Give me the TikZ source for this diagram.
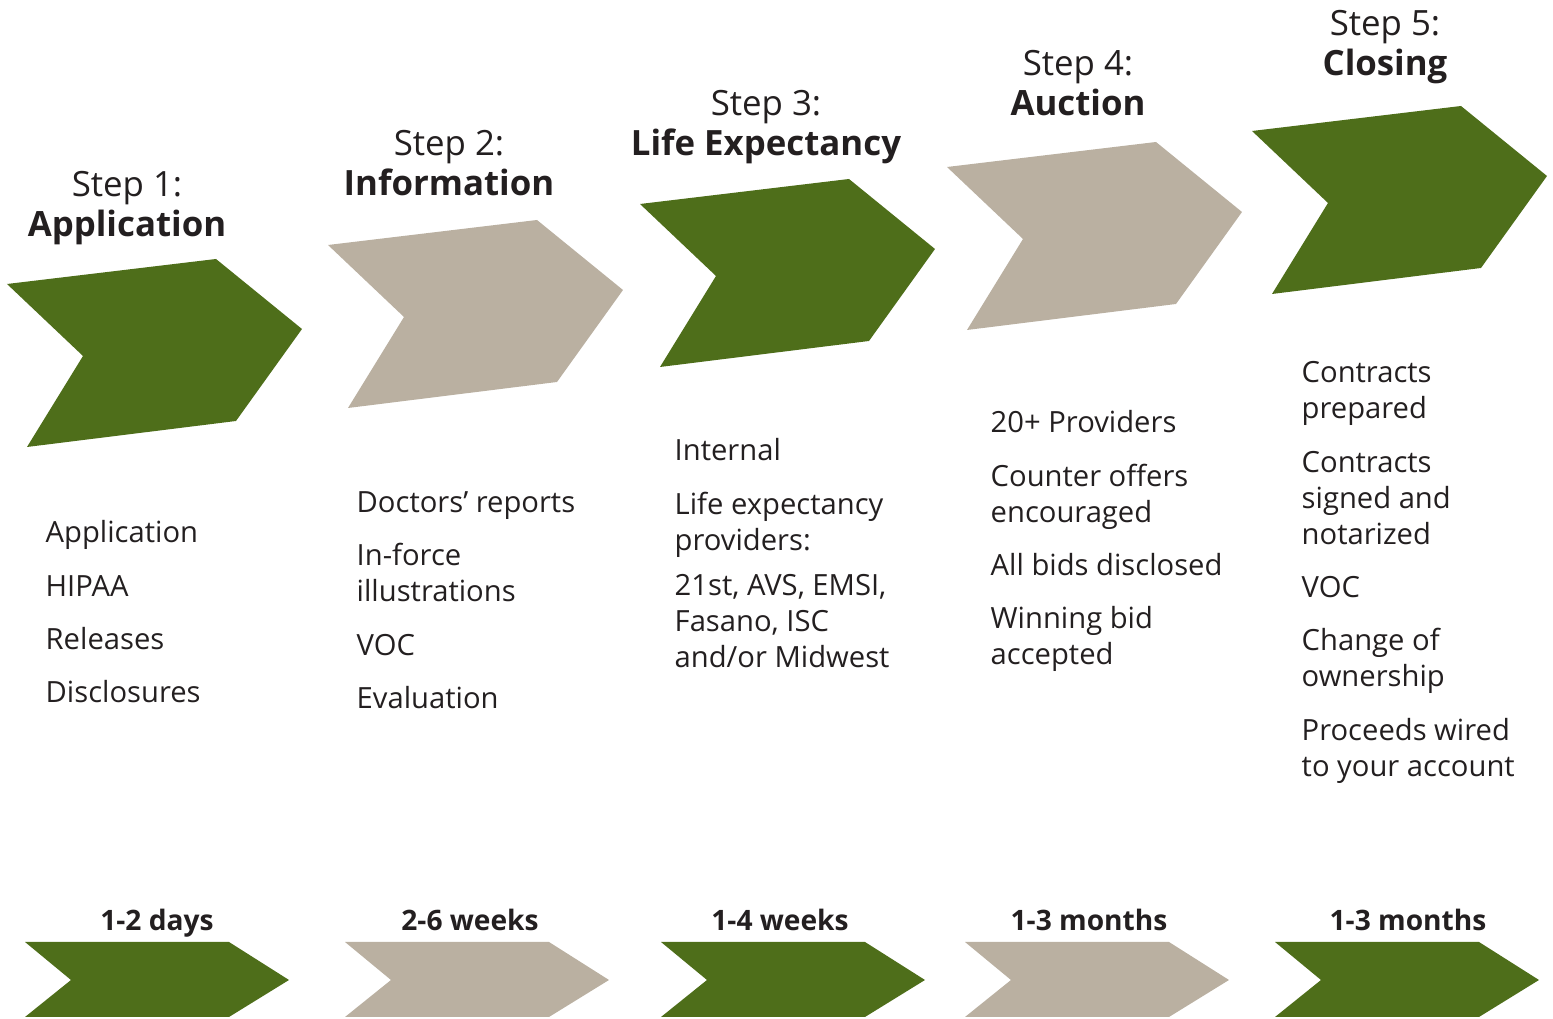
\documentclass[tikz,border=0pt]{standalone}
\usepackage{fontspec}
\setmainfont{Open Sans}
\usepackage{tikz}
\usetikzlibrary{positioning}
\definecolor{leafgreen}{RGB}{78,110,26}
\definecolor{sandgray}{RGB}{186,176,161}
\definecolor{inkgray}{HTML}{231F20}
\tikzset{
    chevg/.style = {fill=leafgreen},
    chevb/.style = {fill=sandgray},
    headnode/.style = {align=center, inner sep=0pt, anchor=north, text=inkgray,
                       font=\fontsize{9.9}{11.4}\selectfont},
    itemnode/.style = {align=left, inner sep=0pt, anchor=north west, text=inkgray,
                       font=\fontsize{8.3}{10.25}\selectfont},
    timenode/.style = {inner sep=0pt, anchor=base, text=inkgray,
                       font=\fontsize{8}{9.6}\selectfont\bfseries}
}
% big chevron: top left corner, style
\newcommand{\bigchev}[3]{\fill[#3] (#1,#2) -- ++(209,-25) -- ++(86,70) -- ++(-66,92) -- ++(-209,26) -- ++(56,-91) -- cycle;}
% small chevron: left x, style
\newcommand{\smallchev}[2]{\fill[#2] (#1,942) -- ++(204,0) -- ++(60,38) -- ++(-60,37) -- ++(-204,0) -- ++(46,-37) -- cycle;}

\begin{document}
\begin{tikzpicture}[x=0.01cm, y=-0.01cm]
  \useasboundingbox (0,0) rectangle (1553,1019);

  % steps
  \bigchev{7}{284}{chevg}
  \bigchev{328}{245}{chevb}
  \bigchev{640}{204}{chevg}
  \bigchev{947}{167}{chevb}
  \bigchev{1252}{131}{chevg}

  \node[headnode] (h1) at (127,171) {Step 1:\\\textbf{Application}};
  \node[headnode] (h2) at (449,130) {Step 2:\\\textbf{Information}};
  \node[headnode] (h3) at (766,90) {Step 3:\\\textbf{Life Expectancy}};
  \node[headnode] (h4) at (1078,50) {Step 4:\\\textbf{Auction}};
  \node[headnode] (h5) at (1385,10) {Step 5:\\\textbf{Closing}};

  % tasks
  \node[itemnode] (t1) at (45,520) {Application\\[4.9pt]HIPAA\\[4.9pt]Releases\\[4.9pt]Disclosures};
  \node[itemnode] (t2) at (356,491) {Doctors’ reports\\[4.9pt]In-force\\illustrations\\[4.9pt]VOC\\[4.9pt]Evaluation};
  \node[itemnode] (t3) at (674,438) {Internal\\[4.9pt]Life expectancy\\providers:\\[2.6pt]21st, AVS, EMSI,\\Fasano, ISC\\and/or Midwest};
  \node[itemnode] (t4) at (990,410) {20+ Providers\\[4.9pt]Counter offers\\encouraged\\[4.9pt]All bids disclosed\\[4.9pt]Winning bid\\accepted};
  \node[itemnode] (t5) at (1301,361) {Contracts\\prepared\\[4.9pt]Contracts\\signed and\\notarized\\[4.9pt]VOC\\[4.9pt]Change of\\ownership\\[4.9pt]Proceeds wired\\to your account};

  % timeline
  \smallchev{25}{chevg}
  \smallchev{345}{chevb}
  \smallchev{661}{chevg}
  \smallchev{965}{chevb}
  \smallchev{1275}{chevg}

  \node[timenode] (d1) at (157,931) {1-2 days};
  \node[timenode] (d2) at (470,931) {2-6 weeks};
  \node[timenode] (d3) at (780,931) {1-4 weeks};
  \node[timenode] (d4) at (1089,931) {1-3 months};
  \node[timenode] (d5) at (1408,931) {1-3 months};
\end{tikzpicture}
\end{document}
